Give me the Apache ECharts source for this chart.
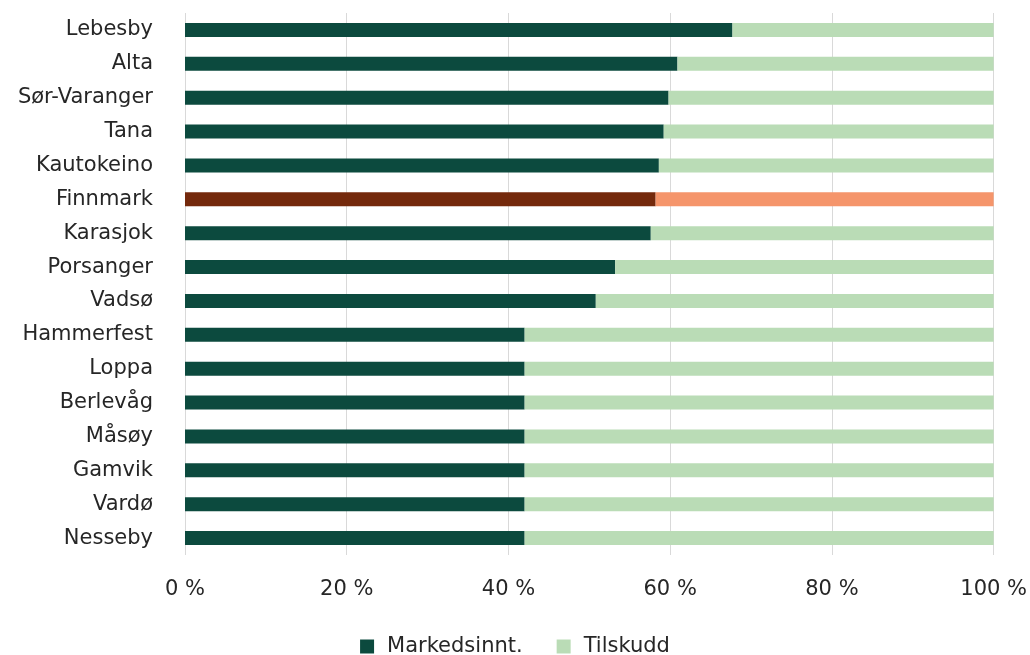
<!DOCTYPE html>
<html><head><meta charset="utf-8">
<script src="https://cdn.jsdelivr.net/npm/echarts@6/dist/echarts.min.js"></script>
<style>html,body{margin:0;padding:0;background:#fff}#c{width:1030px;height:655px}</style>
</head><body><div id="c"></div>
<script>
const categories = ["Lebesby","Alta","Sør-Varanger","Tana","Kautokeino","Finnmark","Karasjok","Porsanger","Vadsø","Hammerfest","Loppa","Berlevåg","Måsøy","Gamvik","Vardø","Nesseby"];
const markedsinnt = [67.7,60.9,59.8,59.2,58.6,58.2,57.6,53.2,50.8,42.0,42.0,42.0,42.0,42.0,42.0,42.0];
const tilskudd = markedsinnt.map(v => +(100 - v).toFixed(1));
const highlight = "Finnmark";

const C = {dark:'#0c4a3e', light:'#badcb6', hiDark:'#74290c', hiLight:'#f5956b'};
const font = "'DejaVu Sans', sans-serif";
const txt = '#262626';

const chart = echarts.init(document.getElementById('c'));
chart.setOption({
  animation:false,
  textStyle:{fontFamily:font},
  grid:{left:185,right:36,top:13,bottom:100,containLabel:false},
  legend:{top:631,left:'center',itemWidth:14,itemHeight:14,itemGap:34,icon:'rect',
    textStyle:{fontSize:21,color:txt,fontFamily:font,padding:[0,0,0,8]},
    data:['Markedsinnt.','Tilskudd']},
  xAxis:{type:'value',min:0,max:100,interval:20,
    axisLine:{show:false},axisTick:{show:false},
    splitLine:{show:true,lineStyle:{color:'#d9d9d9',width:1}},
    axisLabel:{formatter:'{value} %',fontSize:21,color:txt,margin:24,fontFamily:font}},
  yAxis:{type:'category',data:categories,inverse:true,
    axisLine:{show:false},axisTick:{show:false},
    axisLabel:{fontSize:21,color:txt,margin:32,fontFamily:font}},
  series:[
    {name:'Markedsinnt.',type:'bar',stack:'s',barWidth:14,itemStyle:{color:C.dark},
      data:markedsinnt.map((v,i)=>categories[i]===highlight?{value:v,itemStyle:{color:C.hiDark}}:v)},
    {name:'Tilskudd',type:'bar',stack:'s',barWidth:14,itemStyle:{color:C.light},
      data:tilskudd.map((v,i)=>categories[i]===highlight?{value:v,itemStyle:{color:C.hiLight}}:v)}
  ]
});
</script></body></html>
